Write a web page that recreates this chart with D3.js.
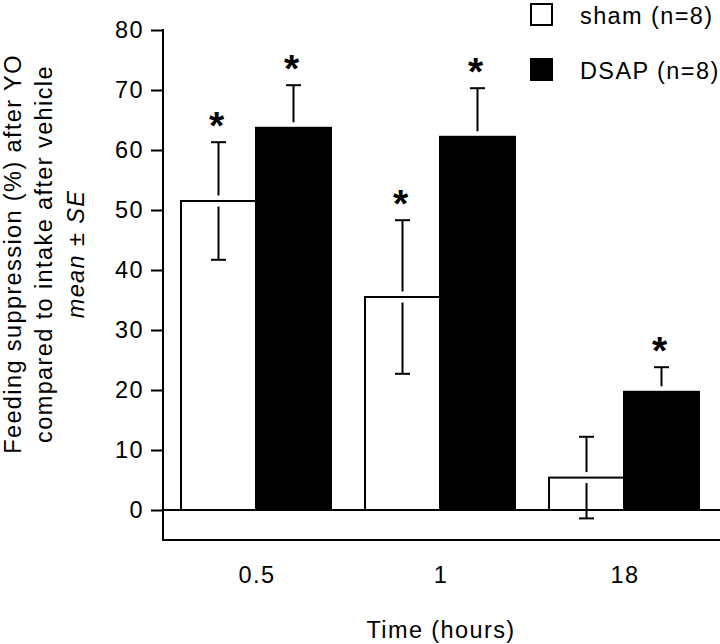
<!DOCTYPE html>
<html>
<head>
<meta charset="utf-8">
<script src="https://cdn.jsdelivr.net/npm/d3@7"></script>
<style>
  html, body { margin: 0; padding: 0; background: #fff; }
  svg { display: block; }
  text { font-family: "Liberation Sans", Arial, Helvetica, sans-serif; fill: #000; }
</style>
</head>
<body>
<div id="chart"></div>
<script>
// ---- Data ----
const categories = ["0.5", "1", "18"];
const seriesNames = ["sham (n=8)", "DSAP (n=8)"];
const shamMean = [51.5, 35.5, 5.4];
const shamSE = [9.8, 12.8, 6.8];
const dsapMean = [63.7, 62.2, 19.7];
const dsapSE = [7.1, 8.1, 4.1];
const shamStar = [true, true, false];
const dsapStar = [true, true, true];
const yTicks = [0, 10, 20, 30, 40, 50, 60, 70, 80];
const xTitle = "Time (hours)";
const yTitle1 = "Feeding suppression (%) after YO";
const yTitle2 = "compared to intake after vehicle";

// ---- Layout ----
const W = 720, H = 644;
const axisX = 163, rightEdge = 720;
const fs = 23.5, ls = 1.4;

const svg = d3.select("#chart").append("svg")
  .attr("width", W).attr("height", H);

const y = d3.scaleLinear().domain([0, 80]).range([510, 30]);
const x0 = d3.scaleBand().domain(categories).range([162.6, 717.4])
  .paddingInner(0.185).paddingOuter(0.1);
const x1 = d3.scaleBand().domain(["sham", "dsap"]).range([0, x0.bandwidth()]);

const rows = [];
categories.forEach((c, i) => {
  rows.push({cat: c, key: "sham", mean: shamMean[i], se: shamSE[i], star: shamStar[i]});
  rows.push({cat: c, key: "dsap", mean: dsapMean[i], se: dsapSE[i], star: dsapStar[i]});
});
const fillOf = k => k === "sham" ? "#fff" : "#000";

// Zero line
svg.append("line")
  .attr("x1", axisX).attr("x2", rightEdge)
  .attr("y1", y(0)).attr("y2", y(0))
  .attr("stroke", "#000").attr("stroke-width", 2);

// Bars
svg.append("g").selectAll("rect").data(rows).join("rect")
  .attr("x", d => x0(d.cat) + x1(d.key))
  .attr("width", x1.bandwidth())
  .attr("y", d => y(d.mean))
  .attr("height", d => y(0) - y(d.mean))
  .attr("fill", d => fillOf(d.key))
  .attr("stroke", "#000").attr("stroke-width", 2);

// Error bars (with gap near bar top)
const gap = 5.5, capHalf = 7.5;
const eg = svg.append("g").attr("stroke", "#000").attr("stroke-width", 2);
rows.forEach(d => {
  const cx = x0(d.cat) + x1(d.key) + x1.bandwidth() / 2;
  const yt = y(d.mean);
  const yu = y(d.mean + d.se);
  const yl = y(d.mean - d.se);
  eg.append("line").attr("x1", cx).attr("x2", cx).attr("y1", yt - gap).attr("y2", yu);
  eg.append("line").attr("x1", cx - capHalf).attr("x2", cx + capHalf).attr("y1", yu).attr("y2", yu);
  eg.append("line").attr("x1", cx).attr("x2", cx).attr("y1", yt + gap).attr("y2", yl);
  eg.append("line").attr("x1", cx - capHalf).attr("x2", cx + capHalf).attr("y1", yl).attr("y2", yl);
});

// Asterisks
const starFs = 39;
svg.append("g").selectAll("text").data(rows.filter(d => d.star)).join("text")
  .attr("x", d => x0(d.cat) + x1(d.key) + x1.bandwidth() / 2 - 2)
  .attr("y", d => y(d.mean + d.se) - 26 + 0.58 * starFs)
  .attr("text-anchor", "middle")
  .style("font-size", starFs + "px")
  .style("font-weight", "bold")
  .text("*");

// Y axis
const yAxis = d3.axisLeft(y).tickValues(yTicks).tickSize(12).tickPadding(7).tickSizeOuter(0);
const yg = svg.append("g").attr("transform", `translate(${axisX},0)`).call(yAxis);
yg.select(".domain").remove();
yg.selectAll(".tick line").attr("stroke", "#000").attr("stroke-width", 2);
yg.selectAll(".tick text")
  .style("font-size", fs + "px").attr("letter-spacing", ls);
yg.attr("font-family", null);
svg.append("line")
  .attr("x1", axisX).attr("x2", axisX)
  .attr("y1", y(80) - 1).attr("y2", y(-5))
  .attr("stroke", "#000").attr("stroke-width", 2);

// Bottom axis line
svg.append("line")
  .attr("x1", axisX - 1).attr("x2", rightEdge)
  .attr("y1", y(-5)).attr("y2", y(-5))
  .attr("stroke", "#000").attr("stroke-width", 2);

// X tick labels
svg.append("g").selectAll("text").data(categories).join("text")
  .attr("x", d => x0(d) + x0.bandwidth() / 2 + 1)
  .attr("y", 583)
  .attr("text-anchor", "middle")
  .style("font-size", fs + "px").attr("letter-spacing", ls)
  .text(d => d);

// X title
svg.append("text")
  .attr("x", 441).attr("y", 638)
  .attr("text-anchor", "middle")
  .style("font-size", fs + "px").attr("letter-spacing", ls)
  .text(xTitle);

// Y title (rotated, 3 lines)
const yt = svg.append("g").attr("transform", "translate(0,254) rotate(-90)");
yt.append("text").attr("x", 0).attr("y", 21).attr("text-anchor", "middle")
  .style("font-size", fs + "px").attr("letter-spacing", ls).text(yTitle1);
yt.append("text").attr("x", 0).attr("y", 52).attr("text-anchor", "middle")
  .style("font-size", fs + "px").attr("letter-spacing", ls).text(yTitle2);
const l3 = yt.append("text").attr("x", 0).attr("y", 84).attr("text-anchor", "middle")
  .style("font-size", fs + "px").attr("letter-spacing", ls);
l3.append("tspan").style("font-style", "italic").text("mean");
l3.append("tspan").text(" ± ");
l3.append("tspan").style("font-style", "italic").text("SE");

// Legend
const legendY = [3, 58];
const lg = svg.append("g");
seriesNames.forEach((name, i) => {
  lg.append("rect")
    .attr("x", 531).attr("y", legendY[i] + 1)
    .attr("width", 21).attr("height", 21)
    .attr("fill", i === 0 ? "#fff" : "#000")
    .attr("stroke", "#000").attr("stroke-width", 2);
  lg.append("text")
    .attr("x", 580).attr("y", legendY[i] + 21)
    .style("font-size", fs + "px").attr("letter-spacing", ls)
    .text(name);
});
</script>
</body>
</html>
